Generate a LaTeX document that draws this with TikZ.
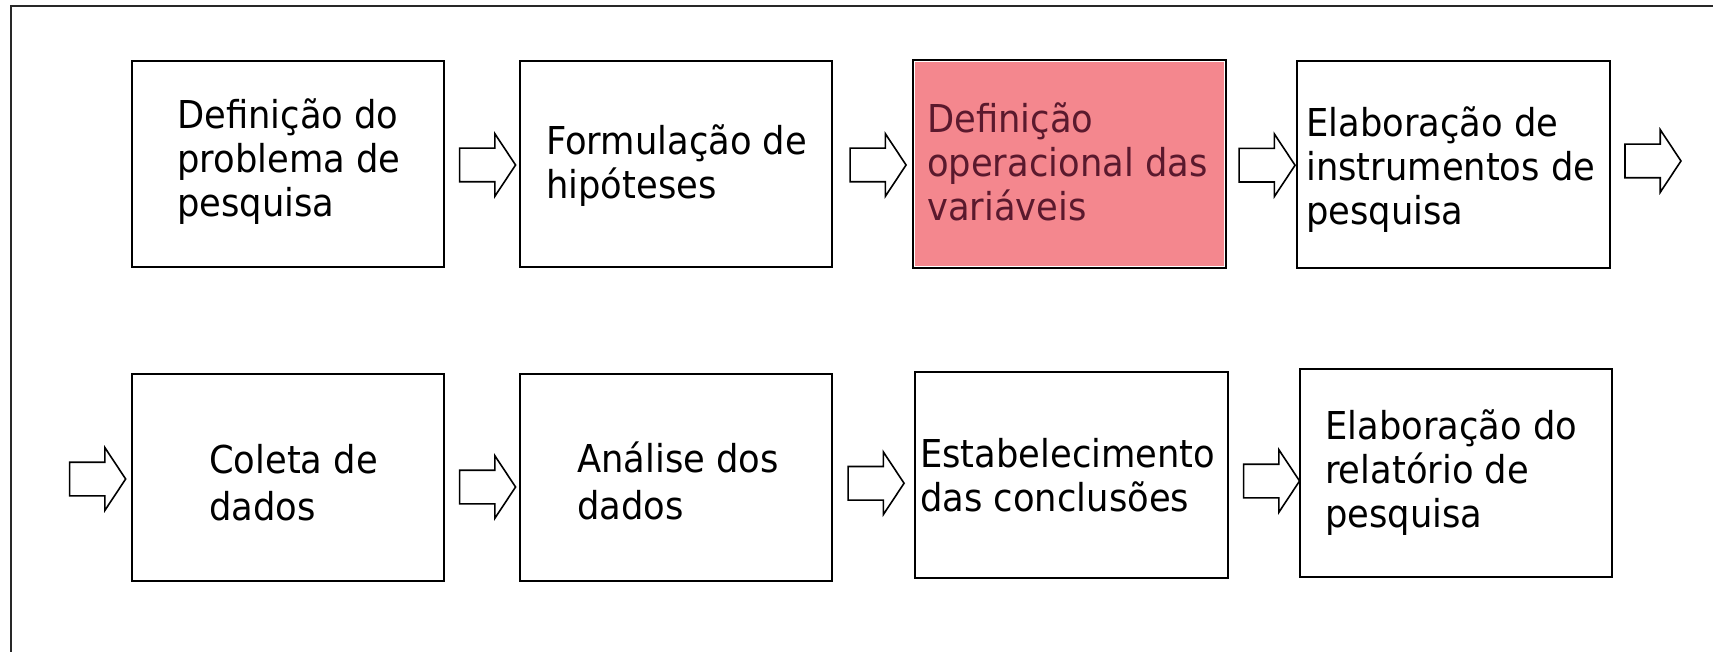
\documentclass[tikz,border=0pt]{standalone}
\usepackage{fontspec}
\setmainfont{DejaVu Sans}[FakeStretch=0.92]
\usetikzlibrary{shapes.arrows,calc}
\definecolor{hilite}{RGB}{244,135,142}
\definecolor{hitext}{RGB}{90,25,45}
\definecolor{framecol}{RGB}{40,40,40}
\begin{document}
\begin{tikzpicture}[x=1pt,y=-1pt,
  box/.style={draw=black, line width=2.8pt, fill=white, inner sep=0pt, rectangle},
  lbl/.style={anchor=base west, inner sep=0pt, align=left, font=\fontsize{38.4}{44}\selectfont},
  blockarrow/.style={shape=single arrow, draw=black, line width=1.6pt, fill=white,
    inner xsep=0pt, inner ysep=16pt, minimum height=56pt,
    single arrow head extend=14.5pt, single arrow tip angle=113},
]
\useasboundingbox (0,0) rectangle (1713,652);
\draw[line width=2pt, framecol] (1713,6.5) -- (10.5,6.5) -- (10.5,652);

% boxes
\node[box, minimum width=312pt, minimum height=206pt] (b1) at (288,164) {};
\node[box, minimum width=312pt, minimum height=206pt] (b2) at (676,164) {};
\node[box, minimum width=313pt, minimum height=208pt] (b3) at (1069.5,164) {};
\fill[hilite] ([shift={(3.5,3.5)}]b3.north west) rectangle ([shift={(-3.5,-3.5)}]b3.south east);
\node[box, minimum width=313pt, minimum height=207pt] (b4) at (1453.5,164.5) {};
\node[box, minimum width=312pt, minimum height=207pt] (b5) at (288,477.5) {};
\node[box, minimum width=312pt, minimum height=207pt] (b6) at (676,477.5) {};
\node[box, minimum width=313pt, minimum height=206pt] (b7) at (1071.5,475) {};
\node[box, minimum width=312pt, minimum height=208pt] (b8) at (1456,473) {};

% texts (anchor = baseline of the last line)
\node[lbl] (t1) at (177,217) {Definição do\\problema de\\pesquisa};
\node[lbl] (t2) at (546,199) {Formulação de\\hipóteses};
\node[lbl, text=hitext] (t3) at (927,221) {Definição\\operacional das\\variáveis};
\node[lbl] (t4) at (1306,225) {Elaboração de\\instrumentos de\\pesquisa};
\node[lbl] (t5) at (209,520) {Coleta de\\[3pt]dados};
\node[lbl] (t6) at (577,519) {Análise dos\\[3pt]dados};
\node[lbl] (t7) at (920,511) {Estabelecimento\\das conclusões};
\node[lbl] (t8) at (1325,527) {Elaboração do\\relatório de\\pesquisa};

% block arrows
\node[blockarrow] (a1) at ($(b1.east)!0.5!(b2.west)+(0,1)$) {};
\node[blockarrow] (a2) at ($(b2.east)!0.5!(b3.west)+(0,1)$) {};
\node[blockarrow] (a3) at ($(b3.east)!0.5!(b4.west)+(0,1)$) {};
\node[blockarrow] (a4) at ($(b4.east)+(36,-3.5)$) {};
\node[blockarrow] (a0) at ($(b5.west)+(-38.5,1.5)$) {};
\node[blockarrow] (a5) at ($(b5.east)!0.5!(b6.west)+(0,9.5)$) {};
\node[blockarrow] (a6) at ($(b6.east)!0.5!(b7.west)+(-3,7)$) {};
\node[blockarrow] (a7) at ($(b7.east)!0.5!(b8.west)+(2,7)$) {};
\end{tikzpicture}
\end{document}
